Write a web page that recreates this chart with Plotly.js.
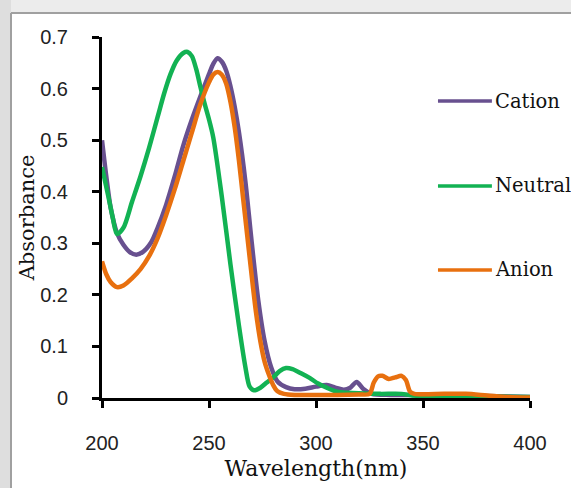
<!DOCTYPE html>
<html>
<head>
<meta charset="utf-8">
<script src="https://cdn.plot.ly/plotly-3.0.1.min.js"></script>
<style>html,body{margin:0;padding:0;background:#fff;}#chart{width:571px;height:488px;}</style>
</head>
<body>
<div id="chart"></div>
<script>
// Series names and colours
const seriesNames = ["Cation", "Neutral", "Anion"];
const seriesColors = ["#68508f", "#12b253", "#e8700f"];

// Cation
const cationWl = [200,202,204,207,210,213,216,219,223,226,230,234,238,242,246,250,252,254,256,258,260,262,264,267,270,273,276,279,282,286,290,295,300,305,309,313,316,319,322,326,335,350,370,390,400];
const cationAbs = [0.50,0.43,0.37,0.32,0.297,0.283,0.278,0.283,0.302,0.33,0.375,0.43,0.49,0.54,0.585,0.628,0.648,0.659,0.652,0.635,0.605,0.565,0.515,0.42,0.30,0.19,0.11,0.06,0.032,0.021,0.017,0.018,0.022,0.025,0.02,0.016,0.02,0.031,0.018,0.008,0.006,0.006,0.005,0.003,0.002];

// Neutral
const neutralWl = [200,203,205,207,210,214,218,222,226,229,232,235,238,240,242,244,246,248,250,252,256,260,264,267,269,271,274,277,280,283,286,289,293,297,301,305,310,315,320,330,340,345,360,380,400];
const neutralAbs = [0.448,0.39,0.35,0.318,0.33,0.38,0.43,0.485,0.545,0.59,0.628,0.655,0.669,0.671,0.663,0.638,0.603,0.57,0.54,0.505,0.39,0.26,0.14,0.06,0.022,0.015,0.02,0.03,0.04,0.052,0.058,0.056,0.048,0.039,0.028,0.02,0.012,0.01,0.009,0.008,0.008,0.005,0.004,0.003,0.002];

// Anion
const anionWl = [200,202,204,207,210,214,218,222,226,230,234,238,242,246,250,252,254,256,258,260,262,264,266,268,270,272,274,276,278,280,282,285,290,300,310,320,325,327,329,331,334,337,340,342,344,346,360,370,380,390,400];
const anionAbs = [0.265,0.24,0.225,0.215,0.218,0.232,0.25,0.275,0.31,0.355,0.405,0.46,0.515,0.57,0.612,0.627,0.632,0.627,0.61,0.575,0.525,0.46,0.385,0.31,0.235,0.165,0.11,0.07,0.045,0.025,0.013,0.008,0.006,0.006,0.006,0.007,0.008,0.03,0.042,0.043,0.037,0.04,0.043,0.035,0.012,0.008,0.008,0.008,0.005,0.002,0.001];

const xTickVals = [200,250,300,350,400];
const xTickText = ["200","250","300","350","400"];
const yTickVals = [0,0.1,0.2,0.3,0.4,0.5,0.6,0.7];
const yTickText = ["0","0.1","0.2","0.3","0.4","0.5","0.6","0.7"];

const xs = [cationWl, neutralWl, anionWl];
const ys = [cationAbs, neutralAbs, anionAbs];

const traces = seriesNames.map((n, i) => ({
  x: xs[i], y: ys[i], name: n, type: "scatter", mode: "lines",
  showlegend: false,
  line: {color: seriesColors[i], width: 4.5, shape: "spline", smoothing: 0.8}
}));

const tickFont = {family: "Liberation Sans, Arial, sans-serif", size: 20, color: "#222"};
const serif = "DejaVu Serif, serif";

// Legend drawn as line keys + labels (paper coordinates)
const legendRowsY = [0.8227, 0.5873, 0.3546];
const legendShapes = seriesNames.map((n, i) => ({
  type: "line", xref: "paper", yref: "paper",
  x0: 0.785, x1: 0.911, y0: legendRowsY[i], y1: legendRowsY[i],
  line: {color: seriesColors[i], width: 3.5}
}));
const legendLabels = seriesNames.map((n, i) => ({
  text: n, xref: "paper", yref: "paper", x: 0.9136, y: legendRowsY[i],
  xanchor: "left", yanchor: "middle", showarrow: false,
  font: {family: serif, size: 19.5, color: "#111"}
}));

const layout = {
  width: 571, height: 488,
  margin: {l: 102, r: 41, t: 37, b: 90},
  paper_bgcolor: "#ffffff",
  plot_bgcolor: "rgba(0,0,0,0)",
  showlegend: false,
  xaxis: {
    range: [200, 400], tickvals: xTickVals, ticktext: xTickText,
    showgrid: false, zeroline: false, showline: true,
    linecolor: "#000", linewidth: 3,
    ticks: "outside", ticklen: 7, tickwidth: 3, tickcolor: "#000",
    ticklabelstandoff: 18,
    tickfont: tickFont,
    title: {text: "Wavelength(nm)", font: {family: serif, size: 22, color: "#111"}, standoff: 8}
  },
  yaxis: {
    range: [0, 0.7], tickvals: yTickVals, ticktext: yTickText,
    showgrid: false, zeroline: false, showline: true,
    linecolor: "#000", linewidth: 3,
    ticks: "outside", ticklen: 7, tickwidth: 3, tickcolor: "#000",
    ticklabelstandoff: 20,
    tickfont: tickFont,
    title: {text: "Absorbance", font: {family: serif, size: 21, color: "#111"}, standoff: 0}
  },
  annotations: legendLabels,
  shapes: [
    {type: "rect", xref: "paper", yref: "paper", x0: -0.24, x1: 1.1, y0: 1.0665, y1: 1.11, fillcolor: "#ececec", line: {width: 0}, layer: "below"},
    {type: "rect", xref: "paper", yref: "paper", x0: -0.24, x1: -0.2126, y0: -0.26, y1: 1.11, fillcolor: "#dedede", line: {width: 0}, layer: "below"},
    {type: "line", xref: "paper", yref: "paper", x0: -0.2126, x1: -0.2126, y0: -0.26, y1: 1.0665, line: {color: "#a0a0a0", width: 2}},
    {type: "line", xref: "paper", yref: "paper", x0: -0.2126, x1: 1.1, y0: 1.0665, y1: 1.0665, line: {color: "#a0a0a0", width: 2}}
  ].concat(legendShapes)
};

Plotly.newPlot("chart", traces, layout, {staticPlot: true, displayModeBar: false});
</script>
</body>
</html>
